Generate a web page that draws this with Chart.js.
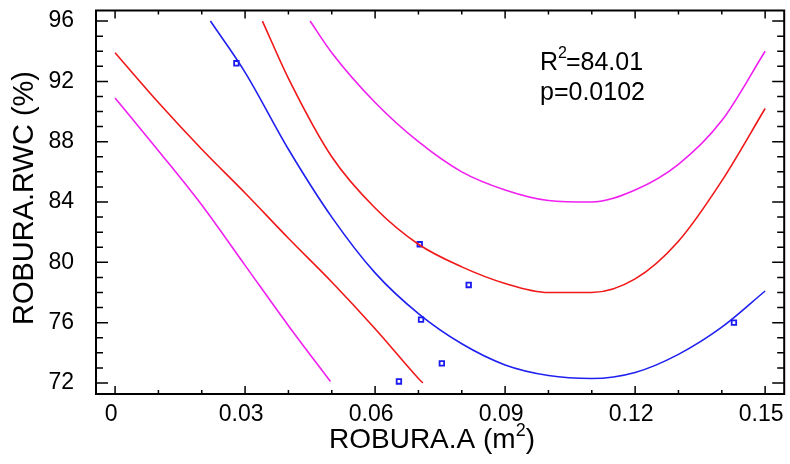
<!DOCTYPE html>
<html>
<head>
<meta charset="utf-8">
<script src="https://cdn.jsdelivr.net/npm/chart.js@4"></script>
<style>
  html, body { margin: 0; padding: 0; background: #fff; }
  #wrap { width: 790px; height: 464px; }
</style>
</head>
<body>
<div id="wrap"><canvas id="myChart" width="790" height="464"></canvas></div>
<script>
// observed points
const obsX = [0.028, 0.0655, 0.0703, 0.0706, 0.0754, 0.0816, 0.1428];
const obsY = [93.2, 72.1, 81.2, 76.2, 73.3, 78.5, 76.0];

// fitted curve (blue)
const fitX = [0.022, 0.03, 0.04, 0.05, 0.06, 0.07, 0.08, 0.09, 0.10, 0.11, 0.12, 0.13, 0.14, 0.15];
const fitY = [96.0, 92.6, 87.5, 83.0, 79.3, 76.6, 74.6, 73.2, 72.5, 72.3, 72.7, 73.9, 75.7, 78.1];

// confidence limits (red)
const confUpX = [0.034, 0.04, 0.05, 0.06, 0.07, 0.08, 0.09, 0.10, 0.11, 0.12, 0.13, 0.14, 0.15];
const confUpY = [96.0, 92.2, 87.0, 83.6, 81.2, 79.7, 78.6, 78.0, 78.0, 78.9, 81.4, 85.4, 90.2];
const confLoX = [0, 0.01, 0.02, 0.03, 0.04, 0.05, 0.06, 0.07, 0.071];
const confLoY = [93.9, 90.6, 87.5, 84.6, 81.6, 78.7, 75.6, 72.3, 72.0];

// prediction limits (magenta)
const predUpX = [0.045, 0.05, 0.06, 0.07, 0.08, 0.09, 0.10, 0.11, 0.12, 0.13, 0.14, 0.15];
const predUpY = [96.0, 93.9, 90.6, 88.0, 86.0, 84.8, 84.1, 84.0, 84.8, 86.5, 89.4, 94.0];
const predLoX = [0, 0.01, 0.02, 0.03, 0.04, 0.0497];
const predLoY = [90.9, 87.4, 83.8, 79.8, 75.8, 72.1];

// axes
const xTicks = [0, 0.03, 0.06, 0.09, 0.12, 0.15];
const xTickLabels = ['0', '0.03', '0.06', '0.09', '0.12', '0.15'];
const yTicks = [72, 76, 80, 84, 88, 92, 96];
const yTickLabels = ['72', '76', '80', '84', '88', '92', '96'];

const FONT = '"Liberation Sans", Arial, sans-serif';

function pts(xs, ys) {
    return xs.map(function (x, i) { return { x: x, y: ys[i] }; });
}

function lineSet(xs, ys, color) {
    return {
        type: 'line',
        data: pts(xs, ys),
        borderColor: color,
        borderWidth: 1.6,
        pointRadius: 0,
        fill: false,
        cubicInterpolationMode: 'monotone',
    };
}

const framePlugin = {
    id: 'frame',
    afterDatasetsDraw: function (chart) {
        const ctx = chart.ctx;
        const a = chart.chartArea;
        const sx = chart.scales.x;
        const sy = chart.scales.y;
        ctx.save();
        ctx.strokeStyle = '#000';
        ctx.lineWidth = 2;
        ctx.strokeRect(a.left, a.top, a.right - a.left, a.bottom - a.top);

        ctx.lineWidth = 1.5;
        ctx.beginPath();
        // x ticks, every 0.01, major every 0.03
        for (let i = 0; i <= 15; i++) {
            const px = sx.getPixelForValue(i / 100);
            const len = (i % 3 === 0) ? 8 : 4;
            ctx.moveTo(px, a.bottom); ctx.lineTo(px, a.bottom - len);
            ctx.moveTo(px, a.top); ctx.lineTo(px, a.top + len);
        }
        // y ticks, every 1, major every 4
        for (let v = 72; v <= 96; v++) {
            const py = sy.getPixelForValue(v);
            const len = (v % 4 === 0) ? 12 : 7;
            ctx.moveTo(a.left, py); ctx.lineTo(a.left + len, py);
            ctx.moveTo(a.right, py); ctx.lineTo(a.right - len, py);
        }
        ctx.stroke();

        // annotation
        ctx.fillStyle = '#000';
        ctx.textAlign = 'left';
        ctx.textBaseline = 'alphabetic';
        ctx.font = '25px ' + FONT;
        ctx.fillText('R', 540, 70);
        let w = ctx.measureText('R').width;
        ctx.font = '16px ' + FONT;
        ctx.fillText('2', 540 + w, 58);
        let w2 = ctx.measureText('2').width;
        ctx.font = '25px ' + FONT;
        ctx.fillText('=84.01', 540 + w + w2 - 1, 70);
        ctx.fillText('p=0.0102', 540, 100);

        // x title
        ctx.font = '28px ' + FONT;
        const t1 = 'ROBURA.A (m';
        const t1w = ctx.measureText(t1).width;
        ctx.font = '18px ' + FONT;
        const supw = ctx.measureText('2').width;
        ctx.font = '28px ' + FONT;
        const t2w = ctx.measureText(')').width;
        let x0 = 432 - (t1w + supw + t2w) / 2;
        ctx.fillText(t1, x0, 448);
        ctx.font = '18px ' + FONT;
        ctx.fillText('2', x0 + t1w, 436);
        ctx.font = '28px ' + FONT;
        ctx.fillText(')', x0 + t1w + supw, 448);

        // y title
        ctx.translate(33, 198);
        ctx.rotate(-Math.PI / 2);
        ctx.textAlign = 'center';
        ctx.font = '29px ' + FONT;
        ctx.fillText('ROBURA.RWC (%)', 0, 0);
        ctx.restore();
    }
};

new Chart(document.getElementById('myChart').getContext('2d'), {
    type: 'scatter',
    data: {
        datasets: [
            lineSet(predLoX, predLoY, '#f020f0'),
            lineSet(predUpX, predUpY, '#f020f0'),
            lineSet(confLoX, confLoY, '#f01818'),
            lineSet(confUpX, confUpY, '#f01818'),
            lineSet(fitX, fitY, '#2020f0'),
            {
                type: 'scatter',
                data: pts(obsX, obsY),
                pointStyle: 'rect',
                pointRadius: 3.2,
                borderWidth: 1.8,
                borderColor: '#1a1af0',
                backgroundColor: '#fff',
            },
        ],
    },
    options: {
        responsive: false,
        animation: false,
        layout: { padding: { left: 0, right: 3, top: 10.5, bottom: 0 } },
        plugins: {
            legend: { display: false },
            tooltip: { enabled: false },
        },
        scales: {
            x: {
                type: 'linear',
                min: -0.0044,
                max: 0.1544,
                grid: { display: false },
                border: { display: false },
                afterBuildTicks: function (scale) {
                    scale.ticks = xTicks.map(function (v) { return { value: v }; });
                },
                afterFit: function (scale) {
                    scale.height = 70;
                    scale.paddingLeft = 0;
                    scale.paddingRight = 0;
                },
                ticks: {
                    autoSkip: false,
                    maxRotation: 0,
                    padding: -1,
                    labelOffset: -4,
                    color: '#000',
                    font: { family: FONT, size: 23 },
                    callback: function (v) {
                        const i = xTicks.findIndex(function (t) { return Math.abs(t - v) < 1e-9; });
                        return i >= 0 ? xTickLabels[i] : '';
                    },
                },
            },
            y: {
                type: 'linear',
                min: 71.27,
                max: 96.7,
                grid: { display: false },
                border: { display: false },
                afterBuildTicks: function (scale) {
                    scale.ticks = yTicks.map(function (v) { return { value: v }; });
                },
                afterFit: function (scale) {
                    scale.width = 96;
                    scale.paddingTop = 0;
                    scale.paddingBottom = 0;
                },
                ticks: {
                    autoSkip: false,
                    padding: 14,
                    color: '#000',
                    font: { family: FONT, size: 23 },
                    callback: function (v) {
                        const i = yTicks.indexOf(v);
                        return i >= 0 ? yTickLabels[i] : '';
                    },
                },
            },
        },
    },
    plugins: [framePlugin],
});
</script>
</body>
</html>
